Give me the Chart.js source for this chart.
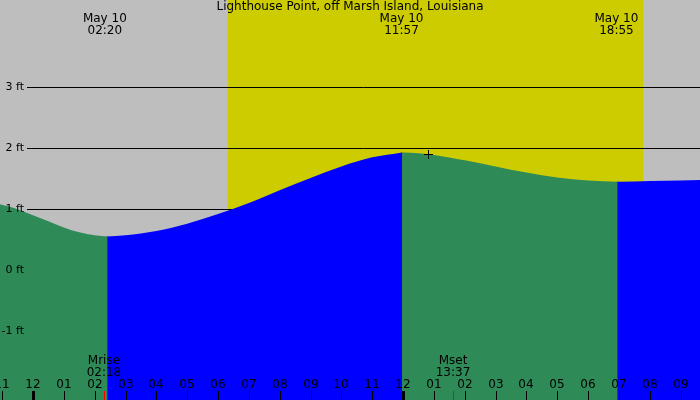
<!DOCTYPE html>
<html><head><script src="https://cdn.jsdelivr.net/npm/chart.js@4"></script>
<style>body{margin:0;background:#bebebe}</style></head><body>
<canvas id="c" width="700" height="400"></canvas>
<script>
const title = "Lighthouse Point, off Marsh Island, Louisiana";
// hours since midnight May 10, tide height in ft
const fall1 = [[-1.07,1.08],[-0.5,1.0],[0,0.9],[0.5,0.8],[1,0.7],[1.5,0.62],[2,0.57],[2.42,0.55]];
const rise1 = [[2.38,0.55],[3,0.57],[4,0.64],[5,0.76],[6,0.92],[7,1.10],[8,1.31],[9,1.51],[10,1.70],[11,1.85],[11.97,1.93]];
const fall2 = [[11.93,1.93],[12,1.93],[13,1.89],[14,1.80],[15,1.70],[16,1.60],[17,1.52],[18,1.47],[18.96,1.45]];
const rise2 = [[18.92,1.45],[19,1.45],[20,1.46],[21,1.47],[21.63,1.48]];
const extremes = [{h:2.33,d:"May 10",t:"02:20"},{h:11.95,d:"May 10",t:"11:57"},{h:18.92,d:"May 10",t:"18:55"},{h:24.9,d:"May 11",t:"02:09"}];
const moon = [{h:2.3,l:"Mrise",t:"02:18"},{h:13.62,l:"Mset",t:"13:37"}];
const daylight = [6.32,19.79];
const yTicks = [-1,0,1,2,3];
const hourLabels = ["11","12","01","02","03","04","05","06","07","08","09","10","11","12","01","02","03","04","05","06","07","08","09"];
const mk = a => a.map(p=>({x:p[0],y:p[1]}));
const ds = (d,c)=>({data:mk(d),borderWidth:0,pointRadius:0,fill:'start',backgroundColor:c,cubicInterpolationMode:'monotone'});
const plug = {id:'p',
 beforeDatasetsDraw(ch){const {ctx,scales:{x,y}}=ch;
  ctx.save();ctx.fillStyle='#bebebe';ctx.fillRect(0,0,700,400);
  ctx.fillStyle='#cccc00';ctx.fillRect(x.getPixelForValue(daylight[0]),0,x.getPixelForValue(daylight[1])-x.getPixelForValue(daylight[0]),400);
  ctx.strokeStyle='#000';ctx.lineWidth=1;
  yTicks.forEach(v=>{const py=Math.round(y.getPixelForValue(v))+0.5;ctx.beginPath();ctx.moveTo(27,py);ctx.lineTo(700,py);ctx.stroke();});
  ctx.restore();},
 afterDraw(ch){const {ctx,scales:{x,y}}=ch;ctx.save();ctx.fillStyle='#000';ctx.font='12px "DejaVu Sans"';
  ctx.textAlign='center';ctx.textBaseline='top';ctx.fillText(title,350,1);
  extremes.forEach(e=>{const px=x.getPixelForValue(e.h);ctx.fillText(e.d,px,13);ctx.fillText(e.t,px,25);});
  ctx.font='11px "DejaVu Sans"';ctx.textAlign='right';ctx.textBaseline='middle';
  yTicks.forEach(v=>ctx.fillText(v+" ft",24,y.getPixelForValue(v)));
  ctx.font='12px "DejaVu Sans"';ctx.textAlign='center';ctx.textBaseline='top';
  moon.forEach(m=>{const px=x.getPixelForValue(m.h);ctx.fillText(m.l,px,355);ctx.fillText(m.t,px,367);
   ctx.fillStyle='#f00';ctx.fillRect(Math.round(px),391,1,9);ctx.fillStyle='#000';});
  hourLabels.forEach((l,i)=>{const h=i-1;const px=Math.round(x.getPixelForValue(h));
   ctx.fillText(l,px,379);
   if(h%12===0)ctx.fillRect(px-1,391,3,9);else ctx.fillRect(px,391,1,9);});
  const cx=Math.round(x.getPixelForValue(12.8)),cy=Math.round(y.getPixelForValue(1.9));
  ctx.fillRect(cx-4,cy,9,1);ctx.fillRect(cx,cy-4,1,9);
  ctx.restore();}};
new Chart(document.getElementById('c'),{type:'line',
 data:{datasets:[ds(fall1,'#2e8b57'),ds(rise1,'#0000ff'),ds(fall2,'#2e8b57'),ds(rise2,'#0000ff')]},
 options:{responsive:false,animation:false,devicePixelRatio:1,layout:{padding:0},
  plugins:{legend:{display:false},tooltip:{enabled:false}},
  scales:{x:{type:'linear',min:-1.07,max:21.63,display:false},y:{min:-2.13,max:4.43,display:false}}},
 plugins:[plug]});
</script></body></html>
